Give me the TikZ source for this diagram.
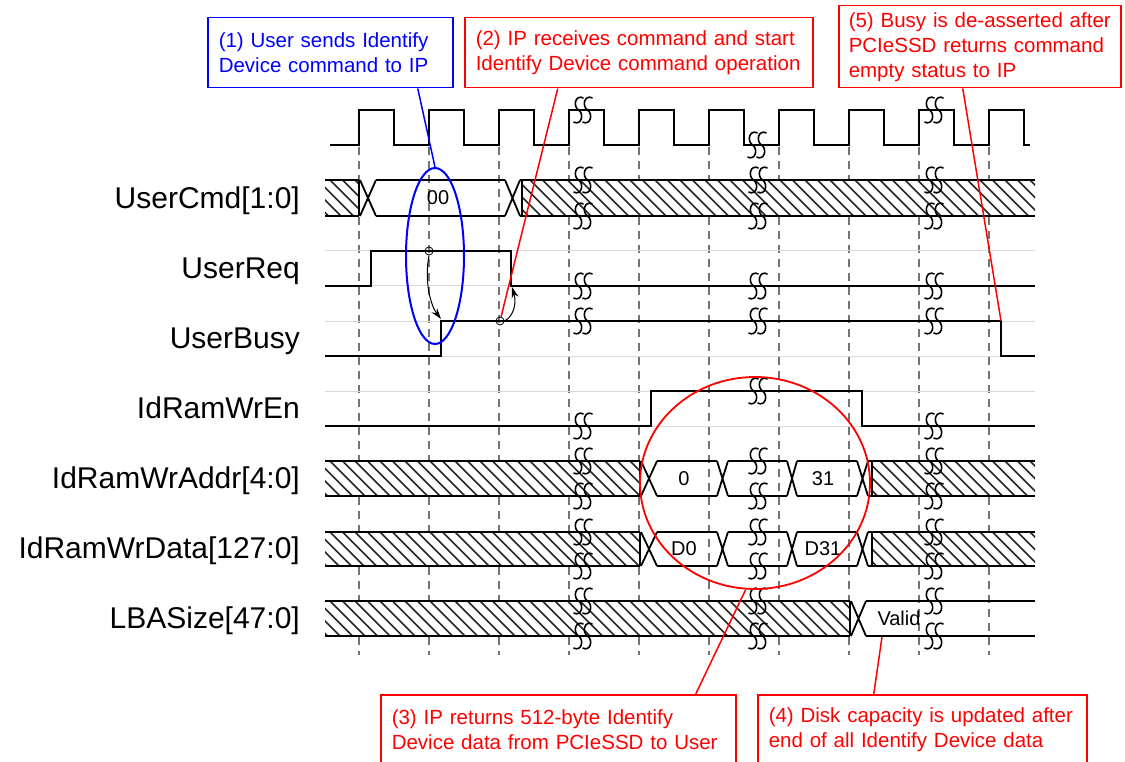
\documentclass[tikz,border=0pt]{standalone}
\usepackage{fontspec}
\setmainfont{Liberation Sans}
\usetikzlibrary{arrows.meta,shapes.geometric}
\newcommand{\hatchbox}[4]{%
  \begin{scope}
    \fill[white] (#1,#3) rectangle (#2,#4);
    \clip (#1,#3) rectangle (#2,#4);
    \foreach \hx in {280,292.5,...,1060} {\draw[hl] (\hx,#3) -- ({\hx+#4-#3},#4);}
  \end{scope}
  \draw[sig] (#1,#3) -- (#2,#3) (#1,#4) -- (#2,#4);}
\newcommand{\busX}[4]{\draw[sig] (#1,#3) -- (#2,#4) (#1,#4) -- (#2,#3);}
\newcommand{\busV}[4]{\draw[sig] (#1,#3) -- (#2,#3) (#1,#4) -- (#2,#4);}
\newcommand{\brkmark}[2]{%
  \foreach \dd in {-4.5,4.5} {%
    \draw[brkline] ({#1+\dd+5},{#2-12}) .. controls ({#1+\dd-3},{#2-16}) and ({#1+\dd-6},{#2-4}) .. ({#1+\dd},{#2})
      .. controls ({#1+\dd+6},{#2+4}) and ({#1+\dd+3},{#2+16}) .. ({#1+\dd-5},{#2+12});}}
\begin{document}
\begin{tikzpicture}[x=1pt,y=-1pt,
  sig/.style={line width=1.8pt,black},
  ghost/.style={line width=1pt,black!15},
  grid/.style={line width=1.4pt,black!55,dash pattern=on 8pt off 6pt},
  hl/.style={line width=1.6pt,black!85},
  brkline/.style={line width=1.6pt,black},
  lbl/.style={anchor=base east,inner sep=0pt,font=\fontsize{30}{34}\selectfont},
  val/.style={inner sep=0pt,font=\fontsize{20}{24}\selectfont},
  callout/.style={draw,line width=1.5pt,anchor=north west,align=left,inner xsep=11pt,inner ysep=0pt,
    font=\fontsize{20.5}{25}\selectfont},
  redbox/.style={callout,draw=red,text=red},
  bluebox/.style={callout,draw=blue,text=blue},
  marker/.style={circle,draw,line width=0.8pt,minimum size=8pt,inner sep=0pt},
  conR/.style={red,line width=1.5pt},
  conB/.style={blue,line width=1.5pt},
  arr/.style={line width=1pt,-{Stealth[length=11pt,width=7pt]}}]
\useasboundingbox (0,0) rectangle (1125,762);
\fill[white] (0,0) rectangle (1125,762);

% grid
\foreach \gx in {359,429,...,989} {\draw[grid] (\gx,147) -- (\gx,655);}

% ghost baselines
\foreach \ya/\yb in {251/286,321/356,391/426} {\draw[ghost] (325,\ya) -- (1035,\ya) (325,\yb) -- (1035,\yb);}

% labels
\node[lbl] (lcmd)  at (300,208.5) {UserCmd[1:0]};
\node[lbl] (lreq)  at (300,278.5) {UserReq};
\node[lbl] (lbusy) at (300,348.5) {UserBusy};
\node[lbl] (len)   at (300,418.5) {IdRamWrEn};
\node[lbl] (laddr) at (300,488.5) {IdRamWrAddr[4:0]};
\node[lbl] (ldata) at (300,558.5) {IdRamWrData[127:0]};
\node[lbl] (llba)  at (300,628.5) {LBASize[47:0]};

% clock
\draw[sig] (330,145) foreach \k in {0,...,9} { -- ({359+70*\k},145) -- ({359+70*\k},110) -- ({394+70*\k},110) -- ({394+70*\k},145) } -- (1030,145);
\brkmark{583}{110}\brkmark{757}{145}\brkmark{934}{110}

% UserCmd
\hatchbox{325}{359}{180}{216}
\draw[sig] (359,180) -- (359,216);
\busX{360}{376}{180}{216}
\busV{376}{505}{180}{216}
\node[val] (v00) at (438,198) {00};
\busX{505}{520}{180}{216}
\busV{520}{522}{180}{216}
\hatchbox{522}{1035}{180}{216}
\draw[sig] (522,180) -- (522,216);
\foreach \bx in {583,758,934} {\brkmark{\bx}{180}\brkmark{\bx}{216}}

% UserReq
\draw[sig] (325,286) -- (371,286) -- (371,251) -- (511,251) -- (511,286) -- (1035,286);
\foreach \bx in {583,758,934} {\brkmark{\bx}{286}}

% UserBusy
\draw[sig] (325,356) -- (441,356) -- (441,321) -- (1001,321) -- (1001,356) -- (1035,356);
\foreach \bx in {583,758,934} {\brkmark{\bx}{321}}

% IdRamWrEn
\draw[sig] (325,426) -- (651,426) -- (651,391) -- (862,391) -- (862,426) -- (1035,426);
\brkmark{583}{426}\brkmark{758}{391}\brkmark{934}{426}

% IdRamWrAddr / IdRamWrData
\foreach \tp/\bt/\na/\nb/\nm in {461/496/0/31/addr,532/566/D0/D31/data} {
  \hatchbox{325}{640}{\tp}{\bt}
  \draw[sig] (640,\tp) -- (640,\bt);
  \busX{641}{657}{\tp}{\bt}
  \busV{657}{717}{\tp}{\bt}
  \busX{717}{728}{\tp}{\bt}
  \busV{728}{787}{\tp}{\bt}
  \busX{787}{797}{\tp}{\bt}
  \busV{797}{857}{\tp}{\bt}
  \busX{857}{868}{\tp}{\bt}
  \busV{868}{872}{\tp}{\bt}
  \hatchbox{872}{1035}{\tp}{\bt}
  \draw[sig] (872,\tp) -- (872,\bt);
  \node[val] (\nm a) at (684,{(\tp+\bt)/2}) {\na};
  \node[val] (\nm b) at (823,{(\tp+\bt)/2}) {\nb};
  \foreach \bx in {583,758,934} {\brkmark{\bx}{\tp}\brkmark{\bx}{\bt}}
}

% LBASize
\hatchbox{325}{850}{601}{636}
\draw[sig] (850,601) -- (850,636);
\busX{851}{866}{601}{636}
\busV{866}{1035}{601}{636}
\node[val] (vvalid) at (899,618) {Valid};
\foreach \bx in {583,758,934} {\brkmark{\bx}{601}\brkmark{\bx}{636}}

% markers and arrows
\node[marker] (m1) at (429,251) {};
\node[marker] (m2) at (500,321) {};
\coordinate (busyrise) at (441,319);
\coordinate (reqfall) at (512,287);
\coordinate (busyfall) at (1001,321);
\coordinate (lbavalid) at (882,637);
\draw[arr] (m1.south) .. controls (424,282) and (431,306) .. (busyrise);
\draw[arr] (m2.east) .. controls (513,317) and (517,304) .. (reqfall);

% ellipses
\node[ellipse,draw=blue,line width=2pt,minimum width=58pt,minimum height=176pt,inner sep=0pt] (bell) at (435,256) {};
\node[ellipse,draw=red,line width=1.8pt,minimum width=230pt,minimum height=212pt,inner sep=0pt] (rell) at (755,483) {};

% callouts
\node[bluebox,minimum width=245pt,minimum height=70pt,text width=223pt] (box1) at (207,17)
  {\mbox{(1) User sends Identify}\\\mbox{Device command to IP}};
\node[redbox,minimum width=348pt,minimum height=70pt,text width=326pt] (box2) at (464,17)
  {\mbox{(2) IP receives command and start}\\\mbox{Identify Device command operation}};
\node[redbox,minimum width=282pt,minimum height=82pt,text width=262pt,inner xsep=10pt] (box5) at (838,5)
  {\mbox{(5) Busy is de-asserted after}\\\mbox{PCIeSSD returns command}\\\mbox{empty status to IP}};
\node[redbox,minimum width=355pt,minimum height=70pt,text width=333pt] (box3) at (380,694)
  {\mbox{(3) IP returns 512-byte Identify}\\\mbox{Device data from PCIeSSD to User}};
\node[redbox,minimum width=329pt,minimum height=70pt,text width=307pt] (box4) at (757,694)
  {\mbox{(4) Disk capacity is updated after}\\\mbox{end of all Identify Device data}};

% connectors
\draw[conB] ([xshift=87.5pt]box1.south) -- (bell.north);
\draw[conR] ([xshift=-81pt]box2.south) -- (m2);
\draw[conR] ([xshift=-17pt]box5.south) -- (busyfall);
\draw[conR] ([xshift=137.5pt]box3.north) -- (rell.265);
\draw[conR] ([xshift=-48.5pt]box4.north) -- (lbavalid);
\end{tikzpicture}
\end{document}
